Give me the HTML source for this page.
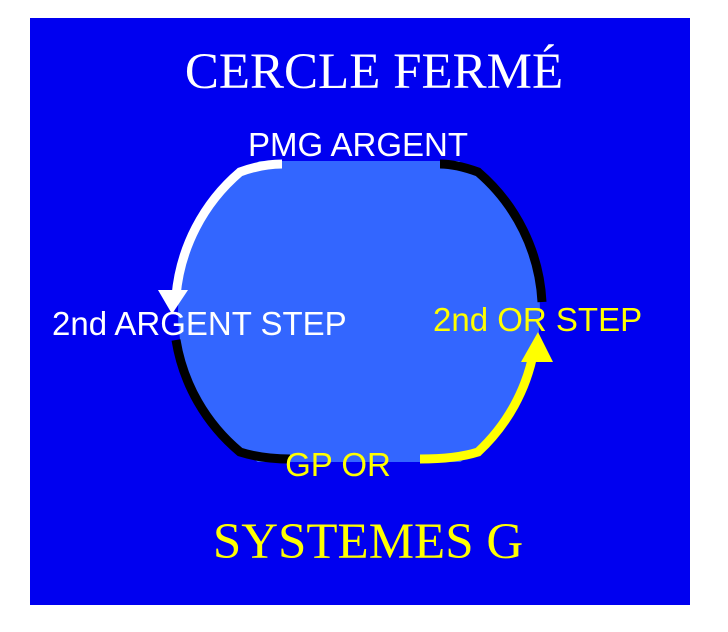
<!DOCTYPE html>
<html><head><meta charset="utf-8"><style>
html,body{margin:0;padding:0;background:#fff;}
svg{display:block;}
</style></head><body>
<svg width="728" height="632" viewBox="0 0 728 632" xmlns="http://www.w3.org/2000/svg">
<rect x="30" y="18" width="660" height="587" fill="#0000f0"/>
<defs><clipPath id="c"><rect x="0" y="161" width="728" height="301"/></clipPath></defs>
<circle cx="359" cy="312" r="181" fill="#3366ff" clip-path="url(#c)"/>
<g fill="none" stroke-width="9">
<path d="M282 164 Q262 164 240 172 A184 184 0 0 0 176 296" stroke="#fff"/>
<path d="M440 164 Q456 164 478 172 A184 184 0 0 1 542 302" stroke="#000"/>
<path d="M176 340 A184 184 0 0 0 240 452 Q262 459 290 459" stroke="#000"/>
<path d="M420 459 Q456 459 478 452 A184 184 0 0 0 534 350" stroke="#ffff00"/>
</g>
<polygon points="158,290 188,290 172,314" fill="#fff"/>
<polygon points="521,362 553,362 538,332" fill="#ffff00"/>
<g font-family="Liberation Serif, serif" font-size="51" text-anchor="middle">
<text x="374" y="88" fill="#fff">CERCLE FERMÉ</text>
<text x="368" y="558" fill="#ffff00">SYSTEMES G</text>
</g>
<g font-family="Liberation Sans, sans-serif" font-size="33">
<text x="358" y="156" fill="#fff" text-anchor="middle">PMG ARGENT</text>
<text x="52" y="335" fill="#fff">2nd ARGENT STEP</text>
<text x="433" y="331" fill="#ffff00">2nd OR STEP</text>
<text x="338" y="476" fill="#ffff00" text-anchor="middle">GP OR</text>
</g>
</svg>
</body></html>
